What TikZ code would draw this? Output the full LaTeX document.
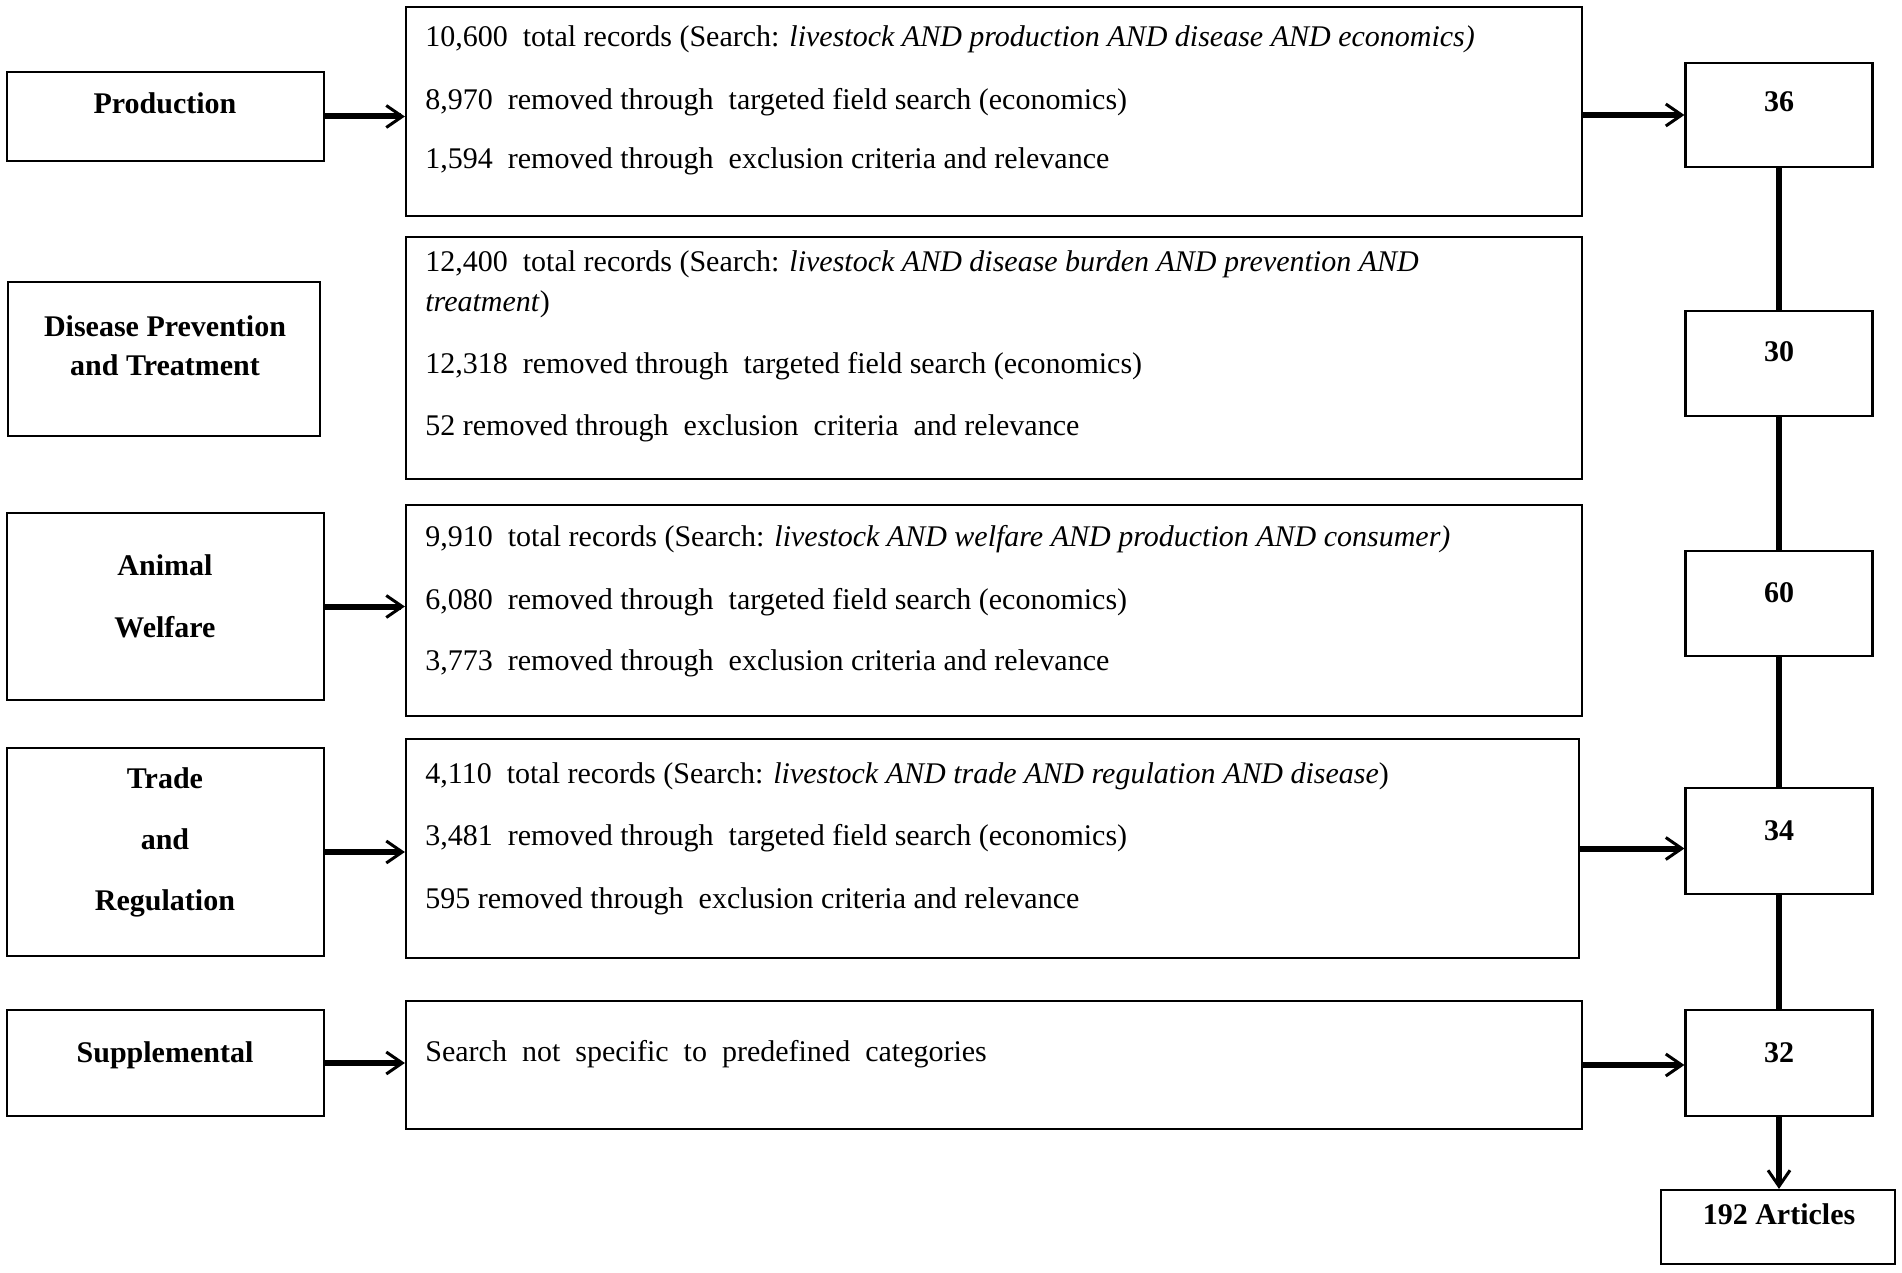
\documentclass[tikz,border=0pt]{standalone}
\usepackage{fontspec}
\setmainfont{Liberation Serif}
\usetikzlibrary{arrows.meta}
\begin{document}
\begin{tikzpicture}[x=0.5pt,y=-0.5pt,
  box/.style={draw, line width=1.1pt, inner sep=0pt},
  lbl/.style={font=\fontsize{15}{18}\selectfont\bfseries, anchor=base, inner sep=0pt},
  txt/.style={font=\fontsize{15}{18}\selectfont, anchor=base west, inner sep=0pt},
  conn/.style={line width=3pt, -{Straight Barb[length=8pt,width=11pt,line width=1.5pt]}},
  link/.style={line width=3pt}]
\useasboundingbox[fill=white] (0,0) rectangle (1902,1273);

% left category boxes
\node[box, minimum width=158.5pt, minimum height=44.5pt] (prod) at (165.5,116.5) {};
\node[box, minimum width=156pt, minimum height=77pt] (dis) at (164,359) {};
\node[box, minimum width=158.5pt, minimum height=93.5pt] (anim) at (165.5,606.5) {};
\node[box, minimum width=158.5pt, minimum height=104pt] (trade) at (165.5,852) {};
\node[box, minimum width=158.5pt, minimum height=53pt] (supp) at (165.5,1063) {};

\node[lbl] (prodT) at (165,114) {Production};
\node[lbl] (disT1) at (165,337) {Disease Prevention};
\node[lbl] (disT2) at (165,376) {and Treatment};
\node[lbl] (animT1) at (165,575) {Animal};
\node[lbl] (animT2) at (165,637) {Welfare};
\node[lbl] (tradeT1) at (165,788) {Trade};
\node[lbl] (tradeT2) at (165,849) {and};
\node[lbl] (tradeT3) at (165,910) {Regulation};
\node[lbl] (suppT) at (165,1062) {Supplemental};

% middle search boxes
\node[box, minimum width=588pt, minimum height=104.5pt] (m1) at (994,111.5) {};
\node[box, minimum width=588pt, minimum height=121pt] (m2) at (994,358) {};
\node[box, minimum width=588pt, minimum height=105.5pt] (m3) at (994,610.5) {};
\node[box, minimum width=586.5pt, minimum height=109.5pt] (m4) at (992.5,848.5) {};
\node[box, minimum width=588pt, minimum height=64pt] (m5) at (994,1065) {};

\node[txt] (m1a) at (425,47) {10,600\ \ total records (Search: \textit{livestock AND production AND disease AND economics)}};
\node[txt] (m1b) at (425,110) {8,970\ \ removed through\ \ targeted field search (economics)};
\node[txt] (m1c) at (425,169) {1,594\ \ removed through\ \ exclusion criteria and relevance};

\node[txt] (m2a) at (425,272) {12,400\ \ total records (Search: \textit{livestock AND disease burden AND prevention AND}};
\node[txt] (m2b) at (425,312) {\textit{treatment})};
\node[txt] (m2c) at (425,373) {12,318\ \ removed through\ \ targeted field search (economics)};
\node[txt] (m2d) at (425,436) {52 removed through\ \ exclusion\ \ criteria\ \ and relevance};

\node[txt] (m3a) at (425,546) {9,910\ \ total records (Search: \textit{livestock AND welfare AND production AND consumer)}};
\node[txt] (m3b) at (425,609) {6,080\ \ removed through\ \ targeted field search (economics)};
\node[txt] (m3c) at (425,670) {3,773\ \ removed through\ \ exclusion criteria and relevance};

\node[txt] (m4a) at (425,783) {4,110\ \ total records (Search: \textit{livestock AND trade AND regulation AND disease})};
\node[txt] (m4b) at (425,845) {3,481\ \ removed through\ \ targeted field search (economics)};
\node[txt] (m4c) at (425,908) {595 removed through\ \ exclusion criteria and relevance};

\node[txt] (m5a) at (425,1061) {Search\ \ not\ \ specific\ \ to\ \ predefined\ \ categories};

% right count boxes
\node[box, minimum width=93.5pt, minimum height=52pt] (r36) at (1779,115) {};
\node[box, minimum width=93.5pt, minimum height=52.5pt] (r30) at (1779,363.5) {};
\node[box, minimum width=93.5pt, minimum height=52.5pt] (r60) at (1779,603.5) {};
\node[box, minimum width=93.5pt, minimum height=53pt] (r34) at (1779,841) {};
\node[box, minimum width=93.5pt, minimum height=53pt] (r32) at (1779,1063) {};
\node[box, minimum width=117pt, minimum height=37pt] (tot) at (1778,1227) {};

\node[lbl] (r36T) at (1779,112) {36};
\node[lbl] (r30T) at (1779,362) {30};
\node[lbl] (r60T) at (1779,602) {60};
\node[lbl] (r34T) at (1779,840) {34};
\node[lbl] (r32T) at (1779,1062) {32};
\node[lbl] (totT) at (1779,1224) {192 Articles};

% connectors
\draw[conn] (prod.east) -- (prod.east -| m1.west);
\draw[conn] (anim.east) -- (anim.east -| m3.west);
\draw[conn] (trade.east) -- (trade.east -| m4.west);
\draw[conn] (supp.east) -- (supp.east -| m5.west);
\draw[conn] (m1.east |- r36.west) -- (r36.west);
\draw[conn] (m4.east) -- (m4.east -| r34.west);
\draw[conn] (m5.east) -- (m5.east -| r32.west);

\draw[link] (r36.south) -- (r30.north);
\draw[link] (r30.south) -- (r60.north);
\draw[link] (r60.south) -- (r34.north);
\draw[link] (r34.south) -- (r32.north);
\draw[conn] (r32.south) -- (r32.south |- tot.north);
\end{tikzpicture}
\end{document}
